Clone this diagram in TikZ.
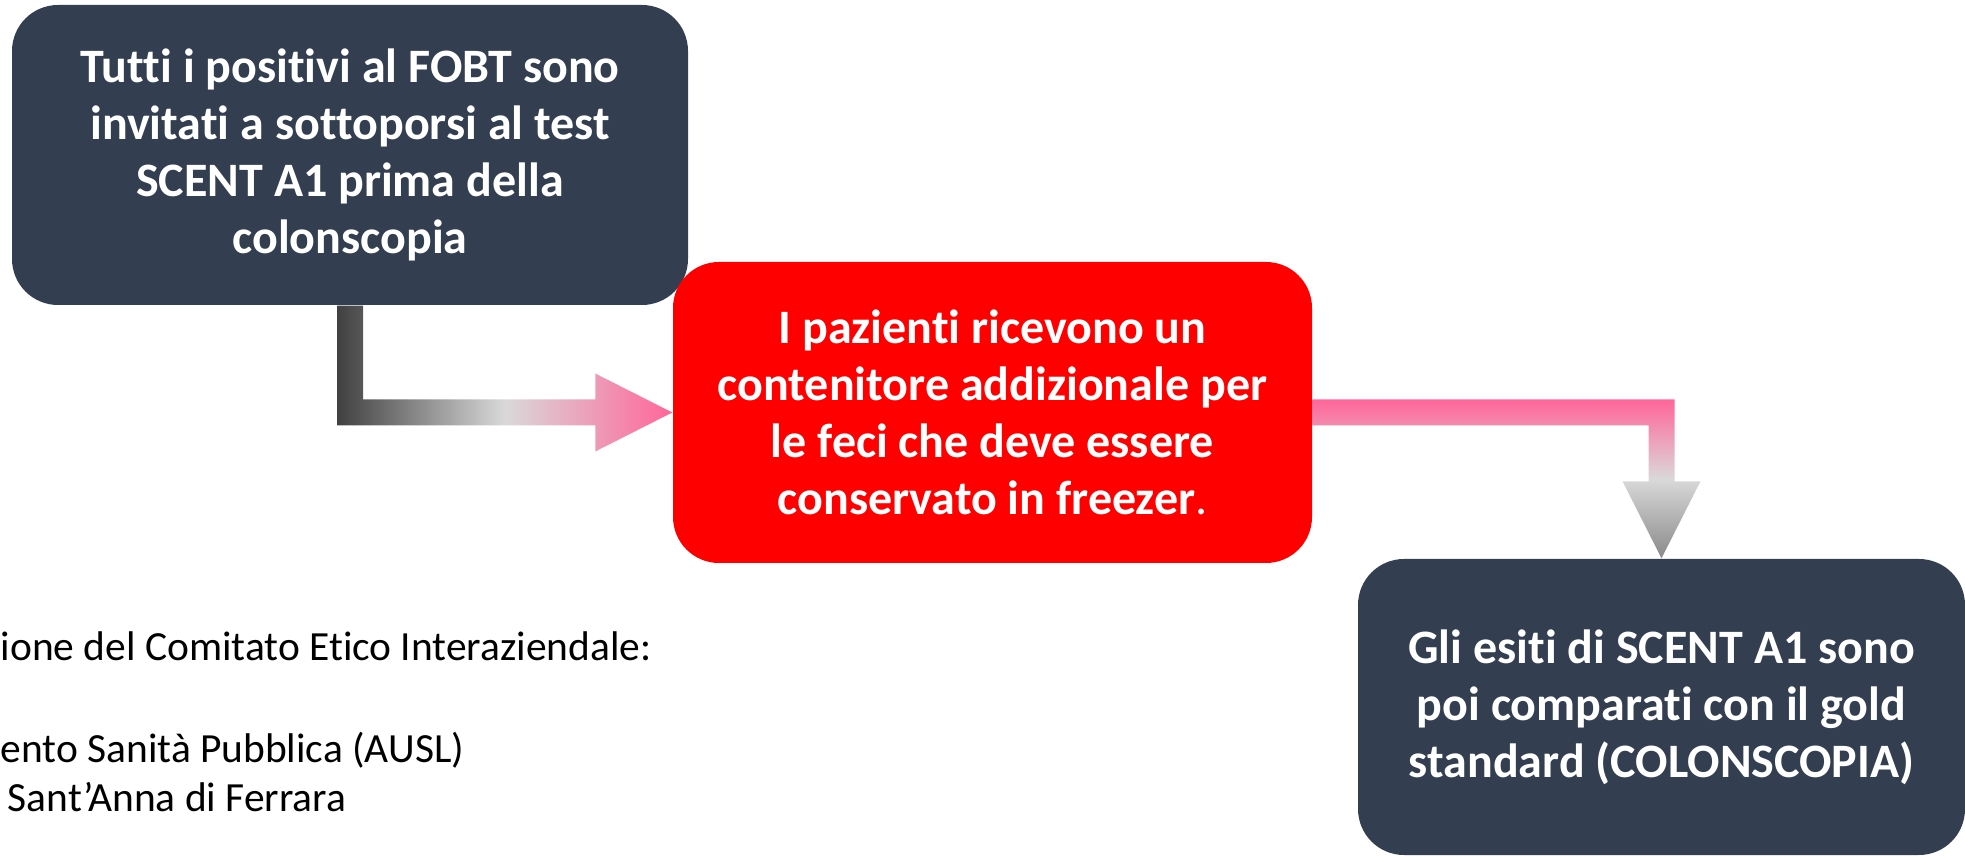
\documentclass[tikz,border=0pt]{standalone}
\usepackage{fontspec}
\setmainfont{Carlito}[Ligatures={NoCommon,NoContextual,NoRequired,NoRare}, Contextuals=NoAlternate]
\usetikzlibrary{calc}
\definecolor{boxdark}{RGB}{51,63,80}
\definecolor{boxred}{RGB}{255,0,0}
\definecolor{fadepink}{RGB}{255,102,153}
\definecolor{fadelight}{RGB}{217,217,217}
\definecolor{fadedark}{RGB}{64,64,64}
\definecolor{fadegray}{RGB}{138,138,138}
\tikzset{
  stepbox/.style={
    fill=#1,
    rounded corners=0.46cm,
    text=white,
    align=center,
    inner sep=0pt,
    font=\fontsize{13.66}{16.2}\selectfont\bfseries
  },
  stepbox/.default={boxdark},
%
  notetext/.style={
    align=left,
    inner sep=0pt,
    font=\fontsize{11.8}{14.2}\selectfont
  },
%
  fadearrow/.style={
    draw=none
  },
}

\begin{document}
\begin{tikzpicture}
\useasboundingbox (0,0) rectangle (19.65,8.57);

\node[stepbox, minimum width=6.76cm, minimum height=3cm] at (3.5,7.02) (fobt) {Tutti i positivi al FOBT sono\\invitati a sottoporsi al test\\SCENT A1 prima della\\colonscopia};
\node[stepbox=boxred, minimum width=6.39cm, minimum height=3.01cm] at (9.925,4.445) (freezer) {I pazienti ricevono un\\contenitore addizionale per\\le feci che deve essere\\conservato in freezer{\mdseries.}};
\node[stepbox, minimum width=6.07cm, minimum height=2.96cm] at (16.615,1.5) (gold) {Gli esiti di SCENT A1 sono\\poi comparati con il gold\\standard (COLONSCOPIA)};
\node[notetext, anchor=base west] at (0,0.45) (ethics) {ione del Comitato Etico Interaziendale:\\[0.52cm]ento Sanità Pubblica (AUSL)\\\hspace*{0.07cm}Sant’Anna di Ferrara};

\shade[fadearrow, left color=fadedark, right color=fadepink, middle color=fadelight]
  ($(fobt.south)+(-0.13,0)$) -- ($(fobt.south)+(0.13,0)$)
  -- ($(fobt.south |- freezer.west)+(0.13,0.13)$) -- ($(freezer.west)+(-0.77,0.13)$)
  -- ($(freezer.west)+(-0.77,0.39)$) -- (freezer.west)
  -- ($(freezer.west)+(-0.77,-0.39)$) -- ($(freezer.west)+(-0.77,-0.13)$)
  -- ($(fobt.south |- freezer.west)+(-0.13,-0.13)$) -- cycle;
\shade[fadearrow, top color=fadepink, bottom color=fadegray, middle color=fadelight]
  ($(freezer.east)+(0,0.13)$) -- ($(gold.north |- freezer.east)+(0.13,0.13)$)
  -- ($(gold.north)+(0.13,0.77)$) -- ($(gold.north)+(0.39,0.77)$)
  -- (gold.north) -- ($(gold.north)+(-0.39,0.77)$)
  -- ($(gold.north)+(-0.13,0.77)$) -- ($(gold.north |- freezer.east)+(-0.13,-0.13)$)
  -- ($(freezer.east)+(0,-0.13)$) -- cycle;

\end{tikzpicture}
\end{document}
